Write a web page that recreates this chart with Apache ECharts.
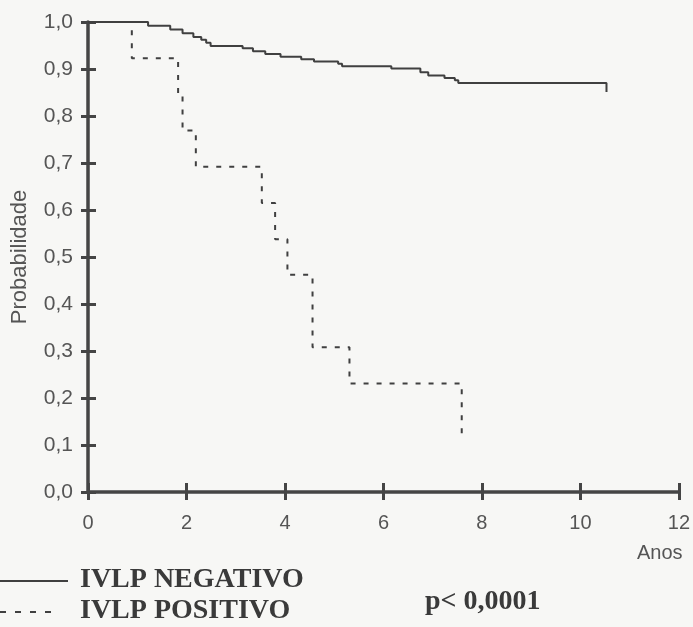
<!DOCTYPE html>
<html>
<head>
<meta charset="utf-8">
<script src="https://cdn.jsdelivr.net/npm/echarts@6/dist/echarts.min.js"></script>
<style>
  html, body { margin: 0; padding: 0; background: #f7f7f5; }
  #chart { width: 693px; height: 627px; }
</style>
</head>
<body>
<div id="chart"></div>
<script>
// tempo (anos) e probabilidade de sobrevida - IVLP negativo
const negTimes = [0, 1.22, 1.67, 1.92, 2.14, 2.30, 2.40, 2.49, 3.14, 3.35, 3.60, 3.91, 4.33, 4.59, 5.08, 5.16, 6.16, 6.75, 6.91, 7.24, 7.45, 7.52, 10.53, 10.53]
const negSurv = [1.0, 0.992, 0.984, 0.976, 0.968, 0.962, 0.956, 0.949, 0.944, 0.938, 0.932, 0.926, 0.921, 0.916, 0.911, 0.906, 0.901, 0.893, 0.886, 0.881, 0.876, 0.870, 0.870, 0.851]

// IVLP positivo
const posTimes = [0, 0.89, 1.83, 1.92, 2.19, 3.53, 3.80, 4.05, 4.56, 5.31, 7.59]
const posSurv = [1.0, 0.923, 0.846, 0.769, 0.692, 0.615, 0.538, 0.462, 0.308, 0.231, 0.125]

const xTickLabels = ['0', '2', '4', '6', '8', '10', '12']
const yTickLabels = ['0,0', '0,1', '0,2', '0,3', '0,4', '0,5', '0,6', '0,7', '0,8', '0,9', '1,0']

const seriesNames = ['IVLP NEGATIVO', 'IVLP POSITIVO']
const pValue = 'p< 0,0001'

const axisColor = '#454545'
const lineColor = '#404040'
const labelColor = '#555'
const sans = 'Liberation Sans, Arial, sans-serif'
const serif = 'Liberation Serif, Times New Roman, serif'

const toPairs = (xs, ys) => xs.map((x, i) => [x, ys[i]])

const option = {
  backgroundColor: '#f7f7f5',
  animation: false,
  grid: { left: 88, right: 14, top: 22, bottom: 135, containLabel: false },
  xAxis: [
    {
      type: 'value',
      min: 0,
      max: 12,
      interval: 2,
      axisLine: { lineStyle: { color: axisColor, width: 3.5 } },
      axisTick: { length: 8, lineStyle: { color: axisColor, width: 3 } },
      axisLabel: {
        color: labelColor,
        fontFamily: sans,
        fontSize: 20,
        margin: 21,
        formatter: v => xTickLabels[Math.round(v / 2)]
      },
      splitLine: { show: false }
    },
    {
      // ticks para dentro
      type: 'value',
      min: 0,
      max: 12,
      interval: 2,
      position: 'bottom',
      axisLine: { show: false },
      axisTick: { inside: true, length: 9, lineStyle: { color: axisColor, width: 3 } },
      axisLabel: { show: false },
      splitLine: { show: false }
    }
  ],
  yAxis: [
    {
      type: 'value',
      min: 0,
      max: 1,
      interval: 0.1,
      name: 'Probabilidade',
      nameLocation: 'middle',
      nameRotate: 90,
      nameGap: 57,
      nameTextStyle: { color: labelColor, fontFamily: sans, fontSize: 22 },
      axisLine: { show: true, lineStyle: { color: axisColor, width: 3.5 } },
      axisTick: { show: true, length: 7, lineStyle: { color: axisColor, width: 3 } },
      axisLabel: {
        color: labelColor,
        fontFamily: sans,
        fontSize: 21,
        margin: 15,
        formatter: v => yTickLabels[Math.round(v * 10)]
      },
      splitLine: { show: false }
    },
    {
      type: 'value',
      min: 0,
      max: 1,
      interval: 0.1,
      position: 'left',
      axisLine: { show: false },
      axisTick: { show: true, inside: true, length: 8, lineStyle: { color: axisColor, width: 3 } },
      axisLabel: { show: false },
      splitLine: { show: false }
    }
  ],
  graphic: [
    {
      type: 'text',
      left: 637,
      top: 543,
      style: { text: 'Anos', fill: labelColor, font: '20px ' + sans }
    },
    // legenda
    {
      type: 'line',
      shape: { x1: 0, y1: 581, x2: 68, y2: 581 },
      style: { stroke: lineColor, lineWidth: 2 }
    },
    {
      type: 'text',
      left: 80,
      top: 566,
      style: { text: seriesNames[0], fill: '#3a3a3a', font: 'bold 28px ' + serif }
    },
    {
      type: 'line',
      shape: { x1: 0, y1: 612, x2: 60, y2: 612 },
      style: { stroke: lineColor, lineWidth: 2, lineDash: [6, 9] }
    },
    {
      type: 'text',
      left: 80,
      top: 597,
      style: { text: seriesNames[1], fill: '#3a3a3a', font: 'bold 28px ' + serif }
    },
    {
      type: 'text',
      left: 425,
      top: 588,
      style: { text: pValue, fill: '#3a3a3a', font: 'bold 28px ' + serif }
    }
  ],
  series: [
    {
      name: seriesNames[0],
      type: 'line',
      step: 'end',
      symbol: 'none',
      data: toPairs(negTimes, negSurv),
      lineStyle: { color: lineColor, width: 2 },
      z: 3
    },
    {
      name: seriesNames[1],
      type: 'line',
      step: 'end',
      symbol: 'none',
      data: toPairs(posTimes, posSurv),
      lineStyle: { color: lineColor, width: 2, type: [5, 8] },
      z: 2
    }
  ]
}

const myChart = echarts.init(document.getElementById('chart'))
myChart.setOption(option)
</script>
</body>
</html>
